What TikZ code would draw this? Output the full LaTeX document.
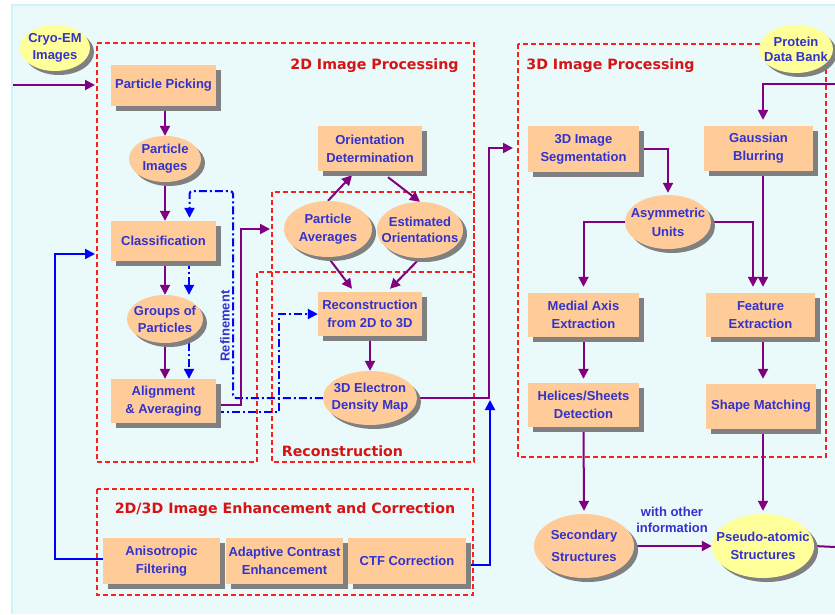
\documentclass[tikz,border=0pt]{standalone}
\usepackage{fontspec}
\setmainfont{Liberation Sans}
\newfontfamily\titlefont{DejaVu Sans}
\usetikzlibrary{shapes.geometric,shadows,arrows.meta,calc}
\definecolor{peach}{RGB}{255,204,153}
\definecolor{paleyellow}{RGB}{255,255,153}
\definecolor{tblue}{RGB}{50,50,205}
\definecolor{flowpurple}{RGB}{128,0,128}
\definecolor{fbblue}{RGB}{0,0,255}
\definecolor{regred}{RGB}{255,30,30}
\definecolor{titlered}{RGB}{215,20,20}
\definecolor{shgray}{RGB}{128,128,128}
\definecolor{bgcyan}{RGB}{234,249,250}
\definecolor{bgedge}{RGB}{205,244,250}
\pgfdeclarelayer{back}
\pgfdeclarelayer{conn}
\pgfsetlayers{back,conn,main}
\begin{document}
\begin{tikzpicture}[x=1pt,y=-1pt,
  lbl/.style={font=\fontsize{13}{18}\selectfont\bfseries, text=tblue, align=center, inner sep=0pt},
  box/.style={lbl, fill=peach, inner sep=0pt,
    drop shadow={shadow xshift=5pt,shadow yshift=-5pt,fill=shgray,opacity=1}},
  oval/.style={ellipse, fill=peach, inner sep=0pt,
    drop shadow={shadow xshift=4pt,shadow yshift=-4pt,fill=shgray,opacity=1}},
  yoval/.style={oval, fill=paleyellow},
  region/.style={draw=regred, line width=1.2pt, dash pattern=on 5pt off 3pt},
  title/.style={font=\titlefont\fontsize{14.2}{17}\selectfont\bfseries, text=titlered},
  flow/.style={draw=flowpurple, line width=2pt, -{Triangle[length=10pt,width=10pt]}},
  plainflow/.style={draw=flowpurple, line width=2pt},
  fb/.style={draw=fbblue, line width=2pt, -{Triangle[length=10pt,width=10pt]}},
  refine/.style={draw=fbblue, line width=2pt, dash pattern=on 8pt off 3pt on 2pt off 3pt, -{Triangle[length=10pt,width=10pt]}},
]
\useasboundingbox (0,0) rectangle (835,614);
\begin{pgfonlayer}{back}
\fill[bgcyan] (12,5) rectangle (835,614);
\draw[bgedge, line width=1.2pt] (12,614) -- (12,5) -- (835,5);
\draw[region] (97,43) -- (474,43) -- (474,272) -- (257,272) -- (257,462) -- (97,462) -- cycle;
\draw[region] (272,192) rectangle (474,462);
\draw[region] (518,44) rectangle (826,457);
\draw[region] (97,489) rectangle (473,595);
\end{pgfonlayer}

% titles
\node[title] (t2d) at (374.5,66) {2D Image Processing};
\node[title] (t3d) at (610.5,66) {3D Image Processing};
\node[title] (trec) at (342.5,451) {Reconstruction};
\node[title] (tenh) at (285,510) {2D/3D Image Enhancement and Correction};

% 2D image processing
\node[yoval, minimum width=70pt, minimum height=46pt, label={[lbl,font=\fontsize{13}{17}\selectfont\bfseries]center:Cryo-EM\\Images}] (cryo) at (55,48) {};
\node[box, minimum width=105pt, minimum height=41pt] (pp) at (163.5,85.5) {Particle Picking};
\node[oval, minimum width=72pt, minimum height=46pt, label={[lbl,font=\fontsize{13}{17}\selectfont\bfseries]center:Particle\\Images}] (pim) at (165,159) {};
\node[box, minimum width=105pt, minimum height=40pt] (cls) at (163.5,241) {Classification};
\node[oval, minimum width=76pt, minimum height=48pt, label={[lbl,font=\fontsize{13}{17}\selectfont\bfseries]center:Groups of\\Particles}] (grp) at (165,319) {};
\node[box, minimum width=105pt, minimum height=44pt] (aln) at (163.5,401) {Alignment\\\& Averaging};
\node[box, minimum width=104pt, minimum height=45pt] (od) at (370,148.5) {Orientation\\Determination};
\node[oval, minimum width=88pt, minimum height=56pt, label={[lbl]center:Particle\\Averages}] (pav) at (328,229) {};
\node[oval, minimum width=86pt, minimum height=56pt, label={[lbl,font=\fontsize{13}{16}\selectfont\bfseries]center:Estimated\\Orientations}] (est) at (420,230) {};
\node[box, minimum width=104pt, minimum height=44pt] (rec) at (370,314) {Reconstruction\\from 2D to 3D};
\node[oval, minimum width=94pt, minimum height=54pt, label={[lbl,font=\fontsize{13}{17}\selectfont\bfseries]center:3D Electron\\Density Map}] (map) at (370,398) {};
\node[lbl, rotate=90] (refl) at (225,326) {Refinement};

% 3D image processing
\node[yoval, minimum width=74pt, minimum height=48pt, label={[lbl,font=\fontsize{13}{15}\selectfont\bfseries]center:Protein\\Data Bank}] (pdb) at (796,49) {};
\node[box, minimum width=111pt, minimum height=46pt] (seg) at (583.5,149) {3D Image\\Segmentation};
\node[box, minimum width=109pt, minimum height=45pt] (gau) at (758.5,148.5) {Gaussian\\Blurring};
\node[oval, minimum width=86pt, minimum height=54pt, label={[lbl,font=\fontsize{13}{19}\selectfont\bfseries]center:Asymmetric\\Units}] (asy) at (668,222) {};
\node[box, minimum width=111pt, minimum height=44pt] (med) at (583.5,315) {Medial Axis\\Extraction};
\node[box, minimum width=109pt, minimum height=44pt] (fea) at (760.5,315) {Feature\\Extraction};
\node[box, minimum width=111pt, minimum height=44pt] (hel) at (583.5,405) {Helices/Sheets\\Detection};
\node[box, minimum width=110pt, minimum height=45pt] (shp) at (761,406.5) {Shape Matching};
\node[oval, minimum width=100pt, minimum height=64pt, label={[lbl,font=\fontsize{13}{22}\selectfont\bfseries]center:Secondary\\Structures}] (sec) at (584,546) {};
\node[yoval, minimum width=102pt, minimum height=64pt, label={[lbl,font=\fontsize{13}{18}\selectfont\bfseries]center:Pseudo-atomic\\Structures}] (pse) at (763,546) {};
\node[lbl, font=\fontsize{13}{16}\selectfont\bfseries] (wo) at (672,520) {with other\\information};

% enhancement
\node[box, minimum width=117pt, minimum height=46pt] (ani) at (161.5,561) {Anisotropic\\Filtering};
\node[box, minimum width=117pt, minimum height=46pt] (ada) at (284.5,561) {Adaptive Contrast\\Enhancement};
\node[box, minimum width=118pt, minimum height=46pt] (ctf) at (407,561) {CTF Correction};

% free ends
\coordinate (cryoIn) at (13,85);
\coordinate (ppIn) at (95,85);
\coordinate (recIn) at (270,229);
\coordinate (r1) at (233,191);
\coordinate (seg3d) at (513,148);
\coordinate (ctfUp) at (490,400);
\coordinate (fbIn) at (95,254);
\coordinate (pdbR) at (835,84);
\coordinate (pseR) at (835,547);

\begin{pgfonlayer}{conn}
\draw[flow] (cryoIn) -- (ppIn);
\draw[flow] (pp.south -| pim.north) -- (pim.north);
\draw[flow] (pim.south) -- (pim.south |- cls.north);
\draw[flow] (cls.south -| grp.north) -- (grp.north);
\draw[flow] (grp.south) -- (grp.south |- aln.north);
\draw[refine] ([xshift=25.5pt]cls.south) -- ([xshift=24pt]grp.north);
\draw[refine] ([xshift=24pt]grp.south) -- ([xshift=25.5pt]aln.north);
\draw[refine, rounded corners=3pt] (map.west) -| (r1) -| ([xshift=26pt,yshift=3pt]cls.north);
\draw[refine] ([yshift=-11pt]aln.east) -| ([xshift=-39pt]rec.west) -- (rec.west);
\draw[flow] ([yshift=-4pt]aln.east) -| ([xshift=-29pt]recIn) -- (recIn);
\draw[flow] (pav.north) -- ([xshift=-18pt,yshift=-4pt]od.south);
\draw[flow] ([xshift=18pt,yshift=-6pt]od.south) -- (est.north);
\draw[flow] (pav.south) -- ([xshift=-18pt,yshift=3pt]rec.north);
\draw[flow] (est.south) -- ([xshift=20pt,yshift=3pt]rec.north);
\draw[flow] (rec.south) -- (map.north);
\draw[flow] (map.east) -| ([xshift=-24pt]seg3d) -- (seg3d);
\draw[fb] ([yshift=-4pt]ctf.east) -| (ctfUp);
\draw[fb] ([yshift=2pt]ani.west) -| ([xshift=-40pt]fbIn) -- (fbIn);
\draw[flow] (pdbR) -| ([xshift=4.5pt,yshift=6pt]gau.north);
\draw[flow] (seg.east) -| ([yshift=2pt]asy.north);
\draw[flow] (asy.west) -| ([yshift=6pt]med.north);
\draw[flow] (asy.east) -| ([xshift=-7.5pt,yshift=6pt]fea.north);
\draw[flow] ([xshift=4.5pt]gau.south) -- ([xshift=2.5pt,yshift=6pt]fea.north);
\draw[flow] (med.south) -- ([yshift=4pt]hel.north);
\draw[flow] ([xshift=2.5pt]fea.south) -- ([xshift=2pt,yshift=5pt]shp.north);
\draw[flow] (hel.south) -- ([yshift=3pt]sec.north);
\draw[flow] ([xshift=2pt]shp.south) -- ([yshift=3pt]pse.north);
\draw[flow] (sec.east) -- (pse.west);
\draw[plainflow] (pse.east) -- (pseR);
\end{pgfonlayer}
\end{tikzpicture}
\end{document}
